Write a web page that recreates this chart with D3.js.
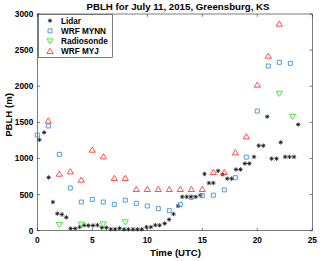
<!DOCTYPE html>
<html>
<head>
<meta charset="utf-8">
<script src="https://cdn.jsdelivr.net/npm/d3@7"></script>
<style>
  body { margin: 0; background: #fff; }
  text { font-family: "Liberation Sans", Arial, sans-serif; font-weight: bold; fill: #000; }
</style>
</head>
<body>
<svg id="chart" width="320" height="261"></svg>
<script>
// Lidar retrievals (time in UTC hours, PBLH in m)
var lidarTime = [0.2, 0.62, 1.03, 1.42, 1.82, 2.24, 2.64, 3.03, 3.44, 3.85, 4.25, 4.64,
  5.06, 5.47, 5.87, 6.28, 6.68, 7.08, 7.48, 7.88, 8.28, 8.7, 9.1, 9.5, 9.92, 10.32,
  10.73, 11.12, 11.58, 11.98, 12.38, 12.8, 13.17, 13.58, 13.98, 14.41, 14.82, 15.2,
  15.6, 16.0, 16.44, 16.85, 17.27, 17.67, 18.06, 18.47, 18.87, 19.27, 19.7, 20.13,
  20.55, 20.9, 21.3, 21.75, 22.13, 22.53, 22.93, 23.34, 23.72];
var lidarPblh = [1258, 1360, 737, 397, 236, 225, 185, 30, 30, 50, 75, 72,
  72, 77, 42, 42, 22, 22, 33, 20, 20, 20, 20, 20, 50, 50,
  77, 75, 100, 155, 231, 342, 469, 469, 469, 469, 492, 785,
  660, 660, 828, 780, 720, 720, 848, 848, 930, 930, 1022, 1177,
  1177, 1579, 997, 997, 1223, 1022, 1022, 1022, 1470];

// WRF MYNN, hourly
var mynnTime = [0, 1, 2, 3, 4, 5, 6, 7, 8, 9, 10, 11, 12, 13, 14, 15, 16, 17, 18, 19, 20, 21, 22, 23];
var mynnPblh = [1325, 1450, 1057, 591, 397, 434, 397, 365, 423, 379, 342, 305,
  277, 362, 462, 485, 492, 565, 734, 1018, 1657, 2280, 2331, 2317];

// Radiosonde launches
var sondeTime = [2, 4, 6, 8, 22, 23.2];
var sondePblh = [85, 88, 92, 120, 1900, 1580];

// WRF MYJ, hourly
var myjTime = [1, 2, 3, 4, 5, 6, 7, 8, 9, 10, 11, 12, 13, 14, 15, 16, 17, 18, 19, 20, 21, 22];
var myjPblh = [1520, 785, 817, 702, 1117, 1025, 725, 725, 573, 573, 573, 573,
  573, 573, 573, 808, 808, 1080, 1302, 2017, 2418, 2862];

var xTicks = [0, 5, 10, 15, 20, 25];
var yTicks = [0, 500, 1000, 1500, 2000, 2500, 3000];

var svg = d3.select("#chart");
var plotL = 37.3, plotR = 312.3, plotT = 14, plotB = 230.7;
var axisColor = "#262626";

var x = d3.scaleLinear().domain([0, 25]).range([plotL, plotR]);
var y = d3.scaleLinear().domain([0, 3000]).range([plotB, plotT]);

// marker paths, centred on 0,0
var markers = {
  star: "M-2.2,0H2.2M0,-2.2V2.2M-1.55,-1.55L1.55,1.55M-1.55,1.55L1.55,-1.55",
  square: "M-2,-2H2V2H-2Z",
  down: "M-3.1,-2.2H3.1L0,2.9Z",
  up: "M0,-3L3.1,2.2H-3.1Z"
};

var series = [
  {name: "Lidar", t: lidarTime, v: lidarPblh, shape: "star", color: "#111"},
  {name: "WRF MYNN", t: mynnTime, v: mynnPblh, shape: "square", color: "#3c94d8"},
  {name: "Radiosonde", t: sondeTime, v: sondePblh, shape: "down", color: "#2ee82e"},
  {name: "WRF MYJ", t: myjTime, v: myjPblh, shape: "up", color: "#ff3b3b"}
];

// axes box
svg.append("rect")
  .attr("x", plotL).attr("y", plotT)
  .attr("width", plotR - plotL).attr("height", plotB - plotT)
  .attr("fill", "none").attr("stroke", axisColor).attr("stroke-width", 0.6);

var ticks = svg.append("g").attr("stroke", axisColor).attr("stroke-width", 0.6);
xTicks.forEach(function(t) {
  ticks.append("line").attr("x1", x(t)).attr("x2", x(t)).attr("y1", plotB).attr("y2", plotB - 2.8);
  ticks.append("line").attr("x1", x(t)).attr("x2", x(t)).attr("y1", plotT).attr("y2", plotT + 2.8);
});
yTicks.forEach(function(v) {
  ticks.append("line").attr("x1", plotL).attr("x2", plotL + 2.8).attr("y1", y(v)).attr("y2", y(v));
  ticks.append("line").attr("x1", plotR).attr("x2", plotR - 2.8).attr("y1", y(v)).attr("y2", y(v));
});

svg.append("g").selectAll("text").data(xTicks).join("text")
  .attr("x", function(d) { return x(d); })
  .attr("y", plotB + 12.5)
  .attr("text-anchor", "middle")
  .attr("font-size", "8.3px")
  .text(function(d) { return d; });

svg.append("g").selectAll("text").data(yTicks).join("text")
  .attr("x", plotL - 4)
  .attr("y", function(d) { return y(d) + 3; })
  .attr("text-anchor", "end")
  .attr("font-size", "8.3px")
  .text(function(d) { return d; });

svg.append("text")
  .attr("x", 178).attr("y", 10)
  .attr("text-anchor", "middle")
  .attr("font-size", "9.7px")
  .text("PBLH for July 11, 2015, Greensburg, KS");

svg.append("text")
  .attr("x", 175.5).attr("y", 256)
  .attr("text-anchor", "middle")
  .attr("font-size", "9.6px")
  .text("Time (UTC)");

svg.append("text")
  .attr("transform", "translate(11.5,115) rotate(-90)")
  .attr("text-anchor", "middle")
  .attr("font-size", "9.6px")
  .text("PBLH (m)");

// data points
var plot = svg.append("g");
series.forEach(function(s) {
  plot.append("g").selectAll("path").data(s.t).join("path")
    .attr("transform", function(d, i) { return "translate(" + x(d) + "," + y(s.v[i]) + ")"; })
    .attr("d", markers[s.shape])
    .attr("fill", "none")
    .attr("stroke", s.color)
    .attr("stroke-width", s.shape === "star" ? 0.8 : 0.9);
});

// legend
var legend = svg.append("g");
legend.append("rect")
  .attr("x", 38.3).attr("y", 14.3)
  .attr("width", 74).attr("height", 43)
  .attr("fill", "#fff").attr("stroke", axisColor).attr("stroke-width", 0.6);

var rows = legend.selectAll("g").data(series).join("g")
  .attr("transform", function(d, i) { return "translate(0," + (20.7 + i * 10.2) + ")"; });
rows.append("path")
  .attr("transform", "translate(50,0)")
  .attr("d", function(d) { return markers[d.shape]; })
  .attr("fill", "none")
  .attr("stroke", function(d) { return d.color; })
  .attr("stroke-width", function(d) { return d.shape === "star" ? 0.8 : 0.9; });
rows.append("text")
  .attr("x", 61).attr("y", 3)
  .attr("font-size", "8.2px")
  .text(function(d) { return d.name; });
</script>
</body>
</html>
